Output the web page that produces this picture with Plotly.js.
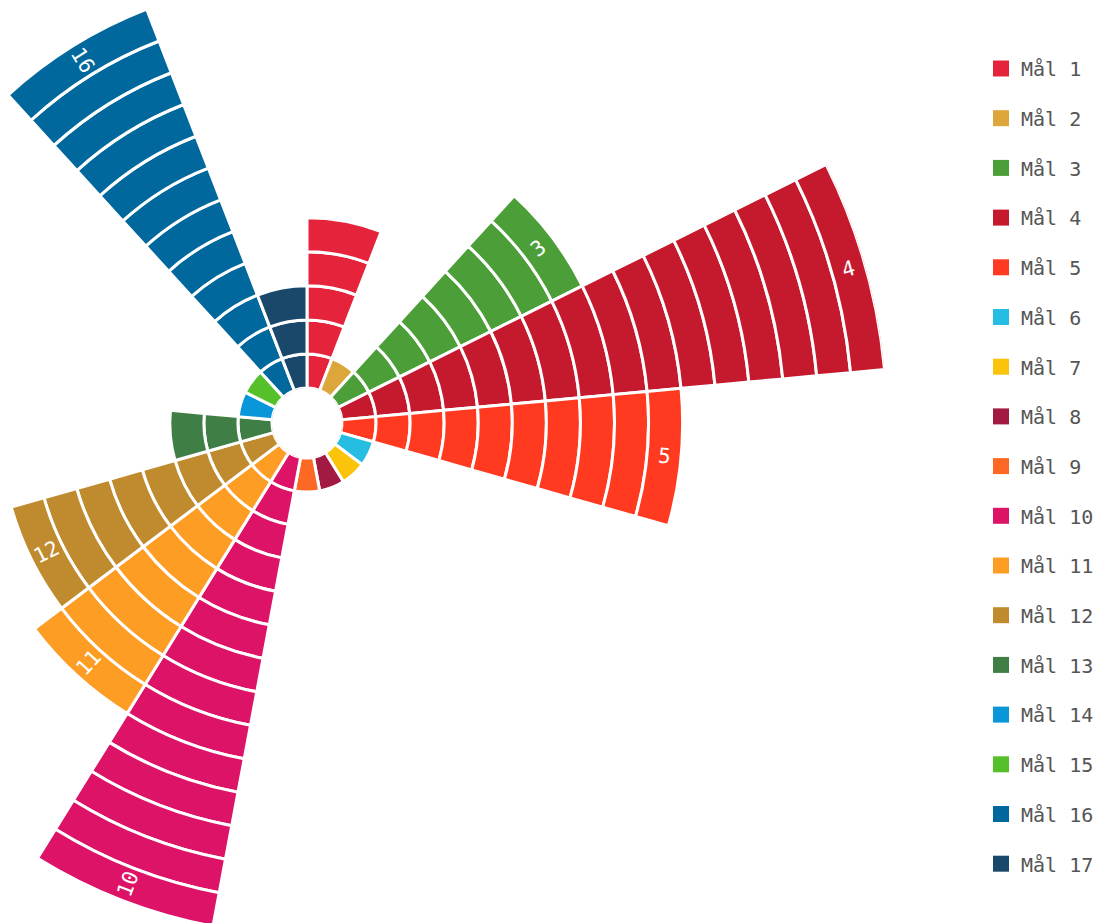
<!DOCTYPE html>
<html>
<head>
<meta charset="utf-8">
<script src="https://cdn.plot.ly/plotly-3.0.1.min.js"></script>
<style>
html,body{margin:0;padding:0;overflow:hidden;width:1100px;height:923px;background:#fff}
#chart{position:absolute;left:-273px;top:-157px;}
</style>
</head>
<body>
<div id="chart"></div>
<script>
// ---- data ----
const goalNumbers = [1, 2, 3, 4, 5, 6, 7, 8, 9, 10, 11, 12, 13, 14, 15, 16, 17];
const goalNames = ['Mål 1', 'Mål 2', 'Mål 3', 'Mål 4', 'Mål 5', 'Mål 6', 'Mål 7', 'Mål 8', 'Mål 9',
                   'Mål 10', 'Mål 11', 'Mål 12', 'Mål 13', 'Mål 14', 'Mål 15', 'Mål 16', 'Mål 17'];
const counts = [5, 1, 8, 16, 10, 1, 1, 1, 1, 14, 9, 8, 3, 1, 1, 12, 3];
const goalColors = ['#E5243B', '#DDA63A', '#4C9F38', '#C5192D', '#FF3A21', '#26BDE2', '#FCC30B', '#A21942',
                    '#FD6925', '#DD1367', '#FD9D24', '#BF8B2E', '#3F7E44', '#0A97D9', '#56C02B', '#00689D', '#19486A'];
const labelMinCount = 8;

// ---- geometry of the page ----
const W = 1373, H = 1160, D = 1160;
const holeFrac = 35 / 580;
const rMax = Math.max.apply(null, counts);
const step = 360 / goalNumbers.length;

const traces = [];
goalNumbers.forEach(function (g, i) {
  const theta = [], r = [], base = [];
  for (let k = 0; k < counts[i]; k++) { theta.push((g - 0.5) * step); r.push(1); base.push(k); }
  traces.push({
    type: 'barpolar', theta: theta, r: r, base: base, width: step,
    name: goalNames[i], showlegend: false, hoverinfo: 'skip',
    marker: {color: goalColors[i], line: {color: '#ffffff', width: 3}}
  });
});
goalNumbers.forEach(function (g, i) {
  traces.push({
    type: 'scatterpolar', mode: 'markers', r: [null], theta: [null],
    name: goalNames[i], legendgroup: 'g' + g, hoverinfo: 'skip',
    marker: {symbol: 'square', size: 16, color: goalColors[i]}
  });
});

const Rpx = D / 2;
const annotations = goalNumbers.filter(function (g, i) { return counts[i] >= labelMinCount; }).map(function (g) {
  const i = g - 1;
  const th = (g - 0.5) * step;
  const rr = counts[i] - 0.5;
  const rp = Rpx * holeFrac + Rpx * (1 - holeFrac) * rr / rMax;
  const rad = th * Math.PI / 180;
  const xpx = Rpx + rp * Math.sin(rad);
  const ypx = Rpx - rp * Math.cos(rad);
  return {
    xref: 'paper', yref: 'paper', x: xpx / W, y: 1 - ypx / H,
    text: String(g), showarrow: false, xanchor: 'center', yanchor: 'middle',
    textangle: th < 180 ? th - 90 : th - 270,
    font: {family: 'DejaVu Sans Mono', size: 21, color: '#ffffff'}
  };
});

const layout = {
  width: W, height: H,
  margin: {l: 0, r: 0, t: 0, b: 0, pad: 0, autoexpand: false},
  paper_bgcolor: '#ffffff',
  showlegend: true,
  legend: {
    x: 1254 / W, y: 1 - 206 / H, xanchor: 'left', yanchor: 'top',
    traceorder: 'grouped', tracegroupgap: 20.7,
    font: {family: 'DejaVu Sans Mono', size: 20, color: '#555555'},
    bgcolor: 'rgba(0,0,0,0)'
  },
  polar: {
    domain: {x: [0, D / W], y: [0, 1]},
    hole: holeFrac,
    bgcolor: '#ffffff',
    radialaxis: {visible: false, range: [0, rMax]},
    angularaxis: {visible: false, rotation: 90, direction: 'clockwise'}
  },
  annotations: annotations
};

Plotly.newPlot('chart', traces, layout, {displayModeBar: false, staticPlot: true});
</script>
</body>
</html>
